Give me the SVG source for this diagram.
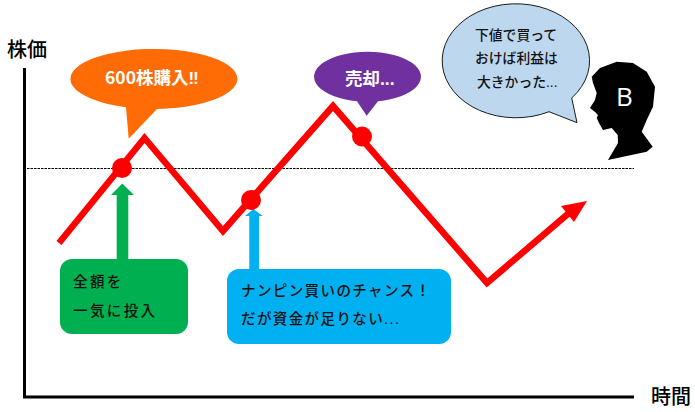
<svg xmlns="http://www.w3.org/2000/svg" width="695" height="412" viewBox="0 0 695 412">
<style>
text{font-family:"Noto Sans CJK JP","Noto Sans",sans-serif}
.ax{font-size:20px;font-weight:500;fill:#000}
.d{font-size:14.500px;fill:#111;font-weight:500;letter-spacing:1.400px}
.g{letter-spacing:2.400px}
.s{font-size:13.800px;fill:#111;font-weight:500}
.w{font-size:17.500px;fill:#fff;font-weight:700}
.l{font-family:"Liberation Sans",sans-serif}
.dot{fill:#f00}
</style>
<rect width="695" height="412" fill="#fff"/>
<g id="axes" fill="none" stroke="#000">
<path d="M24.500 68V397H634" stroke-width="3"/>
<path d="M27 168.500H634" stroke-width="1" stroke-dasharray="2.500 1"/>
</g>
<text id="y-label" class="ax" x="7" y="57">株価</text>
<text id="x-label" class="ax" x="651" y="404">時間</text>
<g id="connectors">
<path d="M59 243L144.500 138L223 231L333 106L487 283L569 213" fill="none" stroke="#f00" stroke-width="6.500" stroke-linejoin="miter"/>
<path d="M587 201L561 206L574 222Z" fill="#f00"/>
<path d="M116.700 259V195H111L122.300 183.500L134 195H128.300V259Z" fill="#00b050"/>
<path d="M249.300 269V216H245L253.500 209L262.700 216H259V269Z" fill="#00b0f0"/>
</g>
<g id="dot-1"><circle class="dot" cx="122" cy="168" r="10"/></g>
<g id="dot-2"><circle class="dot" cx="251" cy="200" r="10"/></g>
<g id="dot-3"><circle class="dot" cx="362" cy="136.500" r="10"/></g>
<g id="bubble-buy">
<path d="M157 108.900A83.500 30 0 1 0 126 107.200L128.700 138.700Z" fill="#ff6c05"/>
<text class="w" x="105" y="84">600株購入<tspan class="l" font-size="17">‼</tspan></text>
</g>
<g id="bubble-sell">
<path d="M378 101.200A53.500 25 0 1 0 357 101.200L366.700 115.700Z" fill="#7030a0"/>
<text class="w" x="345" y="85">売却<tspan class="l">...</tspan></text>
</g>
<g id="bubble-b">
<path d="M571.700 98A73.700 57 0 1 0 549 111.700L577 122.700Z" fill="#bdd7ee" stroke="#1a1a1a" stroke-width="1"/>
<text class="s" x="475" y="40">下値で買って</text>
<text class="s" x="475" y="63">おけば利益は</text>
<text class="s" x="477" y="87">大きかった<tspan class="l">...</tspan></text>
</g>
<g id="person-b">
<path d="M591.700 76.700L600 68L616.700 61.700L633 63L646.700 71.700L655 86.700L653 106.700L646.700 120L641.700 131.700L652.700 146.700L646.700 151.700L608 160L618 143L617.700 135L611.700 128L603 130L599 123L596.700 118L598 115L595 112L590 108L595 100L596.700 93L593 83Z" fill="#000"/>
<text x="616" y="106" font-size="26" fill="#fff" style="font-family:'Open Sans',sans-serif">B</text>
</g>
<g id="note-green">
<rect x="60" y="259" width="128" height="75" rx="12" fill="#00b050"/>
<text class="d g" x="73" y="287">全額を</text>
<text class="d g" x="73" y="316">一気に投入</text>
</g>
<g id="note-blue">
<rect x="227" y="269" width="224" height="75" rx="12" fill="#00b0f0"/>
<text class="d" x="241" y="296">ナンピン買いのチャンス！</text>
<text class="d" x="241" y="324">だが資金が足りない<tspan class="l">...</tspan></text>
</g>
</svg>
